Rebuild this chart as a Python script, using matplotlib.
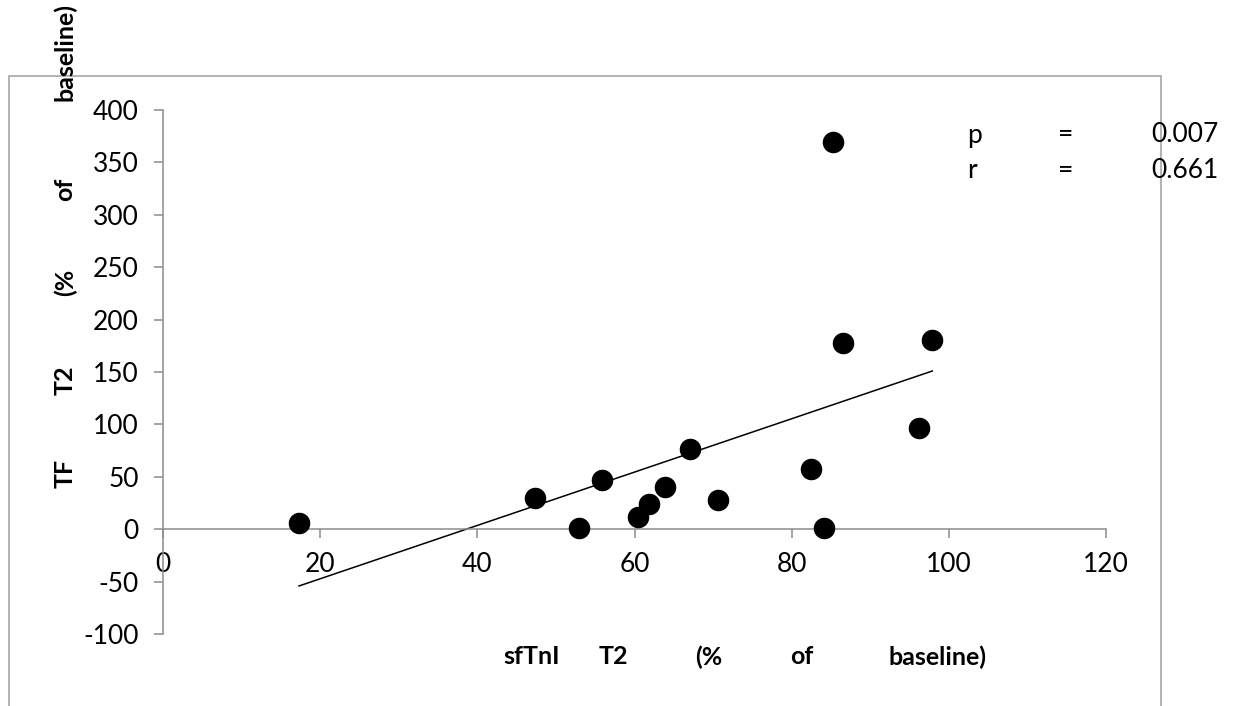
import numpy as np
import matplotlib.pyplot as plt
from matplotlib.patches import Rectangle

# sfTnI T2 (% of baseline) vs TF T2 (% of baseline)
sftni_t2 = [17.3, 47.3, 52.9, 55.9, 60.4, 61.8, 63.9, 67.1, 70.6, 82.5, 84.1, 85.2, 86.5, 97.9, 96.2]
tf_t2 = [6.0, 29.3, 1.2, 46.8, 12.1, 23.9, 40.4, 76.3, 28.3, 57.0, 1.2, 369.3, 177.8, 181.0, 96.7]

x_ticks = [0, 20, 40, 60, 80, 100, 120]
y_ticks = [-100, -50, 0, 50, 100, 150, 200, 250, 300, 350, 400]

stats = [("p", "0.007"), ("r", "0.661")]
x_words = ["sfTnI", "T2", "(%", "of", "baseline)"]
y_words = ["TF", "T2", "(%", "of", "baseline)"]

plt.rcParams['font.family'] = ['Lato', 'DejaVu Sans']
plt.rcParams['axes.unicode_minus'] = False

fig = plt.figure(figsize=(12.39, 7.06), dpi=100)
ax = fig.add_axes([163 / 1239, 1 - 634 / 706, (1106 - 163) / 1239, (634 - 110) / 706])

grey = '#8c8c8c'

# outer chart frame (Excel style)
fig.patches.append(Rectangle((9 / 1239, -0.05), (1161 - 9) / 1239, 1.05 - 76 / 706,
                             transform=fig.transFigure, fill=False,
                             edgecolor='#a6a6a6', linewidth=1.2, zorder=0))

ax.scatter(sftni_t2, tf_t2, s=210, color='black', zorder=3, clip_on=False)

# linear trendline
slope, intercept = np.polyfit(sftni_t2, tf_t2, 1)
xs = np.array([min(sftni_t2), max(sftni_t2)])
ax.plot(xs, slope * xs + intercept, color='black', linewidth=1.1, zorder=2)

ax.set_xlim(0, 120)
ax.set_ylim(-100, 400)
ax.set_xticks(x_ticks)
ax.set_yticks(y_ticks)

ax.spines['top'].set_visible(False)
ax.spines['right'].set_visible(False)
ax.spines['bottom'].set_position(('data', 0))
for side in ['left', 'bottom']:
    ax.spines[side].set_color(grey)
    ax.spines[side].set_linewidth(1.1)

ax.tick_params(axis='both', colors=grey, labelcolor='black', labelsize=19,
               length=6.5, width=1.1, direction='out')
ax.tick_params(axis='y', pad=11)
ax.tick_params(axis='x', pad=10)
ax.patch.set_alpha(0)

# p / r annotation
for i, (name, val) in enumerate(stats):
    yy = 1 - (135 + i * 36) / 706
    fig.text(967 / 1239, yy, name, fontsize=19, va='center', ha='left')
    fig.text(1066 / 1239, yy, "=", fontsize=19, va='center', ha='center')
    fig.text(1219 / 1239, yy, val, fontsize=19, va='center', ha='right')

# justified axis titles, word by word
x_pos = [532, 613, 709, 802, 938]
for w, px in zip(x_words, x_pos):
    fig.text(px / 1239, 1 - 657 / 706, w, fontsize=18, fontweight='bold',
             ha='center', va='center')

y_pos = [473, 380, 282, 189, 52]
for w, py in zip(y_words, y_pos):
    fig.text(65 / 1239, 1 - py / 706, w, fontsize=18, fontweight='bold',
             ha='center', va='center', rotation=90)

fig.savefig('out.png', dpi=100)
